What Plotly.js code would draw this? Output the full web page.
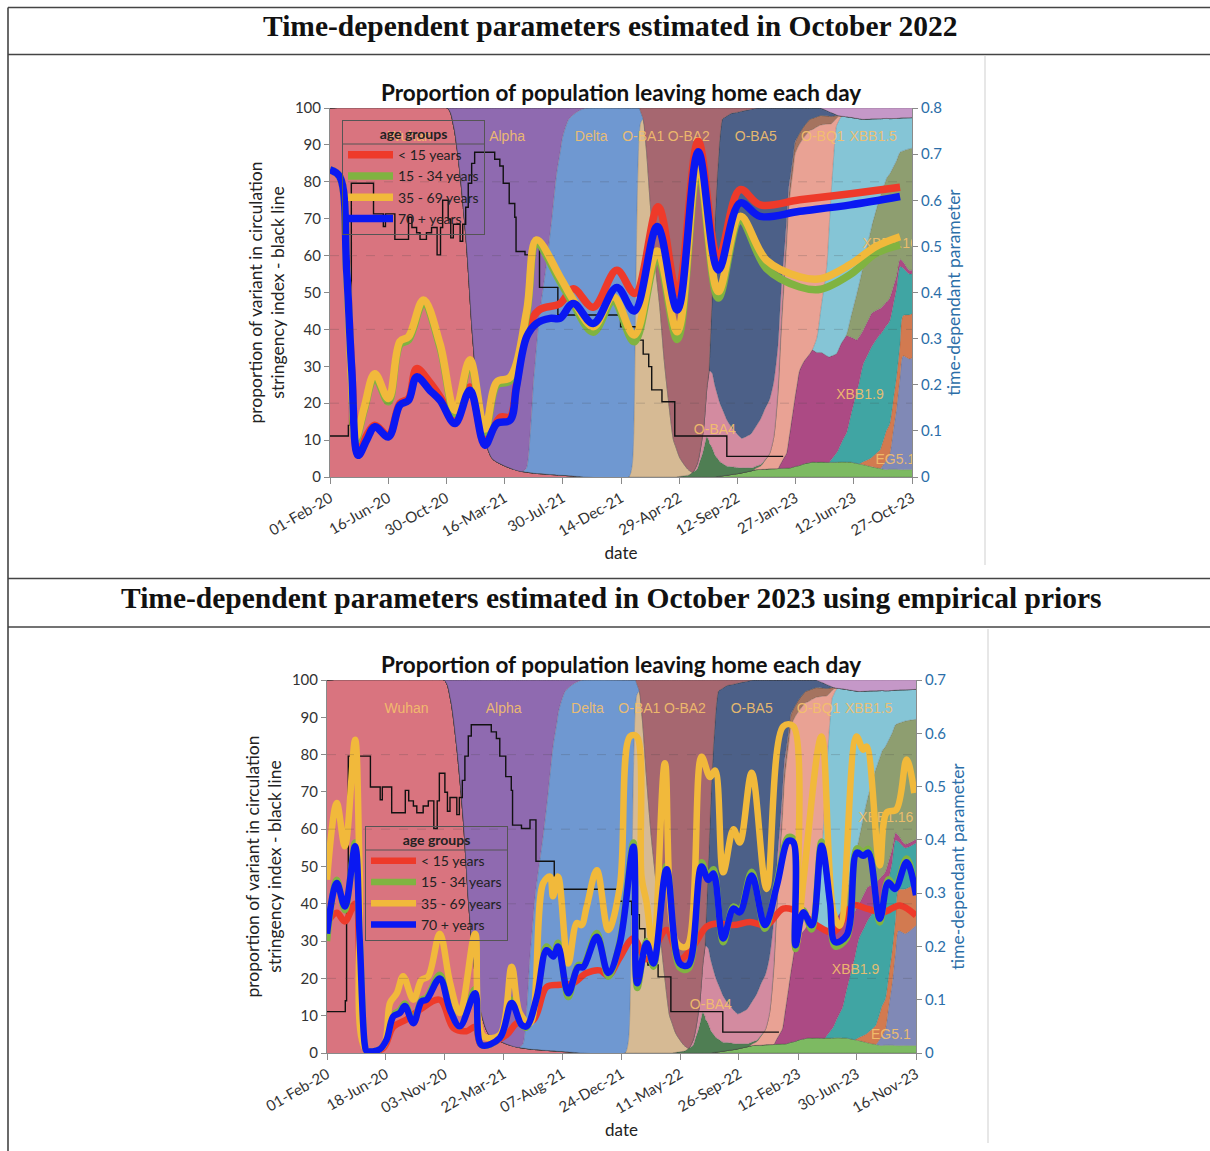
<!DOCTYPE html>
<html><head><meta charset="utf-8">
<script src="https://cdn.plot.ly/plotly-3.0.1.min.js"></script>
<style>html,body{margin:0;padding:0;background:#fff;}#chart{width:1210px;height:1151px;}</style>
</head><body><div id="chart"></div>
<script>
// ---------------- x axis ticks (days since 01-Feb-20) ----------------
const topTickLabels = ['01-Feb-20','16-Jun-20','30-Oct-20','16-Mar-21','30-Jul-21','14-Dec-21','29-Apr-22','12-Sep-22','27-Jan-23','12-Jun-23','27-Oct-23'];
const topTickDays = [0,136,272,409,545,682,818,954,1091,1227,1364];
const botTickLabels = ['01-Feb-20','18-Jun-20','03-Nov-20','22-Mar-21','07-Aug-21','24-Dec-21','11-May-22','26-Sep-22','12-Feb-23','30-Jun-23','16-Nov-23'];
const botTickDays = [0,138,276,415,553,692,830,968,1107,1245,1384];

// ---------------- variant shares (% of circulation), stacked bottom -> top ----------------
const wuhanDays = [0,275,290,305,320,333,345,360,380,420,450,480,540,600];
const wuhanShare = [100,100,95,82,63,40,24,12,5,2.5,1.5,1,0.5,0];
const otherDays = [900,960,1000,1080,1110,1130,1220,1260,1300,1390];
const otherShare = [0,1,2,2.5,3.5,4,4,3,2,2];
const eg51Days = [1290,1312,1328,1336,1343,1359,1390];
const eg51Share = [0,4,16,25,31,30,33];
const orangeDays = [1240,1265,1289,1304,1320,1336,1343,1359,1390];
const orangeShare = [0,2,5,8,8,9,11,12,11];
const xbb19Days = [1170,1190,1211,1230,1250,1270,1289,1312,1336,1343,1359,1390];
const xbb19Share = [0,3,8,17,26,30,31,27,21,13,11,11];
const xbbDays = [1050,1070,1085,1100,1130,1164,1187,1211,1234,1250,1270,1289,1312,1336,1359,1390];
const xbbShare = [0,4,15,26,30,29,27,26,14,9,9,7,6,2,1,1];
const xbb116Days = [1205,1211,1234,1265,1289,1305,1336,1359,1390];
const xbb116Share = [0,0.5,12,22,30,33.5,29,33,32];
const xbb15Days = [1130,1141,1152,1164,1175,1187,1200,1211,1234,1265,1289,1305,1336,1359,1390];
const xbb15Share = [0,4,13,24,45,62,60,58.5,47,31,21,16,9.3,8.4,8];
const bq1Days = [990,1010,1030,1040,1050,1058,1066,1075,1090,1110,1125,1141,1152,1164,1175,1187,1200];
const bq1Share = [0,1,4,8.5,20,36,50,64,65,60,60,57,48,39,18,2,0];
const bq1bDays = [1040,1055,1070,1130,1175,1195];
const bq1bShare = [0,2,3,3,2,0];
const greenDays = [810,840,860,872,883,892,902,914,930,960,1000,1030];
const greenShare = [0,0.5,2,6,11,9,6,4,2.5,1.5,0.5,0];
const ba4Days = [850,865,876,884,890,898,910,925,940,955,965,985,1000,1020,1040,1050,1058,1066,1080,1095];
const ba4Share = [0,2,6,14,21,20,17,14,11,9,8,9,11,14,15,12,9,5,1,0];
const ba5Days = [888,896,902,908,914,920,930,950,965,985,1000,1020,1040,1050,1058,1066,1075,1090,1110,1125,1150,1175,1190];
const ba5Share = [0,22,44,61,74,81,85,87,89,88,86,82,74,64,48,37,22,9,5,3,2,1,0];
const ba1Days = [700,708,712,716,720,724,728,734,742,750,762,773,783,793,805,820,836,850];
const ba1Share = [0,3,12,45,75,91,96,97,88,75,58,46,32,21,10,5,2,0];
const deltaDays = [450,460,470,477,490,508,520,531,545,560,580,600,700,708,712,716,720,724,728,734];
const deltaShare = [0,1,12,25,42,58,70,82,92,97,99,100,99,97,88,55,25,8,3,0];
const alphaDays = [275,290,305,320,333,345,360,380,420,450,460,470,477,490,508,520,531,545,560,580,600];
const alphaShare = [0,5,18,37,60,76,88,95,97.5,98.5,98,87,74,57,42,30,18,8,3,1,0];
const ba2Days = [725,734,742,750,762,773,783,793,805,820,836,850,865,876,884,890,896,902,908,914,920,940,980,1000];
const ba2Share = [0,3,12,25,42,54,68,79,90,95,97,96,95,88,75,70,50,32,18,8,3,1.5,0.5,0];
const topMiscDays = [1150,1190,1250,1390];
const topMiscShare = [0,2,3,2.5];

// variant name labels
const labelNames = ['Wuhan','Alpha','Delta','O-BA1','O-BA2','O-BA5','O-BQ1','XBB1.5','XBB1.16','XBB1.9','O-BA4','EG5.1'];
const labelDays = [187,415,612,734,841,998,1155,1273,1313,1242,902,1325];
const labelVals = [92,92,92,92,92,92,92,92,63,22,12.7,4.6];

// ---------------- stringency index (black step line) ----------------
const stringDays = [0,40,43,46,50,102,125,130,152,184,192,203,211,226,238,251,259,264,277,283,289,305,311,318,324,332,339,386,398,406,420,433,436,457,477,491,534,681,716,734,747,754,778,808,930,1062];
const stringVals = [11.1,11.1,14,40,79.6,71.3,67.9,71.3,64.4,70.4,67.6,66.2,64.4,66.2,67.6,60.2,67.6,75,69.9,64.8,68.5,63.9,68.5,73.1,79.6,85,88,86.1,84.3,79.6,74.1,70.4,61.1,60.2,62.5,51.4,43.9,40.7,37.1,33.3,29.9,23.6,20.4,11.1,5.6,5.6];

// ---------------- time-dependent parameter, estimated Oct 2022 ----------------
const top15Days = [0,23,39,51,66,86,105,137,164,184,203,234,258,293,328,363,400,422,437,461,490,539,570,617,672,715,769,814,863,910,961,1008,1101,1220,1336];
const top15Vals = [0.666,0.651,0.45,0.23,0.05,0.09,0.112,0.09,0.16,0.17,0.235,0.205,0.174,0.123,0.195,0.08,0.13,0.13,0.2,0.318,0.362,0.376,0.408,0.368,0.448,0.398,0.586,0.398,0.728,0.474,0.623,0.59,0.601,0.614,0.628];
const top1534Days = [0,23,39,51,60,80,105,137,164,184,219,258,293,328,363,391,422,461,484,539,570,617,664,713,767,814,863,910,961,1023,1101,1150,1218,1280,1336];
const top1534Vals = [0.666,0.651,0.45,0.2,0.078,0.145,0.216,0.163,0.287,0.297,0.377,0.281,0.137,0.247,0.097,0.199,0.209,0.353,0.505,0.424,0.375,0.314,0.381,0.293,0.477,0.298,0.668,0.388,0.556,0.452,0.412,0.407,0.438,0.485,0.503];
const top3569Days = [0,23,39,51,60,80,105,137,164,184,219,258,293,328,363,391,422,461,484,539,570,617,664,713,767,814,863,910,961,1023,1101,1150,1218,1280,1336];
const top3569Vals = [0.666,0.651,0.45,0.2,0.085,0.15,0.224,0.17,0.294,0.304,0.384,0.288,0.144,0.254,0.104,0.206,0.216,0.36,0.514,0.434,0.384,0.326,0.391,0.308,0.49,0.315,0.68,0.402,0.565,0.47,0.434,0.43,0.46,0.5,0.521];
const top70Days = [0,23,39,51,66,86,105,137,164,184,203,234,258,293,328,363,391,422,437,461,484,516,539,570,617,672,713,767,814,863,910,961,1008,1101,1220,1336];
const top70Vals = [0.666,0.651,0.45,0.232,0.047,0.08,0.109,0.087,0.156,0.166,0.217,0.188,0.166,0.116,0.188,0.069,0.116,0.123,0.195,0.304,0.333,0.344,0.344,0.376,0.333,0.411,0.36,0.543,0.362,0.705,0.449,0.594,0.565,0.576,0.59,0.608];

// ---------------- time-dependent parameter, estimated Oct 2023 ----------------
const bot15Days = [0,23,42,66,77,93,132,156,187,218,265,297,328,348,363,422,446,485,516,547,578,610,641,661,688,720,751,798,829,860,892,915,955,994,1033,1072,1111,1150,1190,1236,1268,1307,1346,1384];
const bot15Vals = [0.244,0.263,0.247,0.28,0.147,0.004,0.009,0.049,0.063,0.081,0.1,0.047,0.041,0.049,0.015,0.034,0.056,0.062,0.124,0.128,0.131,0.15,0.155,0.145,0.179,0.215,0.176,0.231,0.176,0.2,0.237,0.243,0.24,0.246,0.24,0.271,0.264,0.24,0.227,0.277,0.271,0.264,0.277,0.258];
const botBlueDays = [0,23,42,66,77,89,93,124,140,156,171,183,203,222,234,265,289,312,348,363,406,434,457,469,493,516,532,543,567,590,602,634,661,688,720,729,751,767,798,829,849,880,896,908,931,955,970,998,1029,1057,1084,1096,1101,1119,1139,1162,1182,1194,1221,1245,1260,1272,1299,1319,1335,1362,1384];
const bot1534Vals = [0.21,0.325,0.268,0.395,0.215,0.014,0.004,0.007,0.026,0.072,0.08,0.093,0.058,0.1,0.104,0.147,0.083,0.05,0.12,0.015,0.028,0.1,0.052,0.048,0.105,0.2,0.185,0.207,0.105,0.165,0.165,0.225,0.143,0.21,0.395,0.122,0.21,0.162,0.352,0.16,0.158,0.358,0.33,0.345,0.208,0.275,0.268,0.34,0.233,0.32,0.405,0.402,0.195,0.268,0.232,0.397,0.287,0.2,0.215,0.384,0.376,0.383,0.245,0.326,0.312,0.365,0.3];
const bot3569Days = [0,23,42,66,77,93,132,148,164,179,203,222,238,265,289,312,348,367,406,434,453,477,508,524,531,543,567,587,598,610,634,661,688,712,728,739,751,767,794,822,845,880,900,912,931,955,970,998,1033,1072,1096,1104,1119,1162,1190,1205,1244,1260,1268,1299,1315,1338,1362,1380];
const bot3569Vals = [0.325,0.469,0.388,0.588,0.336,0.004,0.013,0.094,0.112,0.144,0.1,0.137,0.144,0.224,0.132,0.075,0.224,0.032,0.034,0.162,0.075,0.056,0.319,0.331,0.294,0.331,0.168,0.244,0.24,0.274,0.343,0.231,0.312,0.594,0.594,0.331,0.282,0.193,0.544,0.206,0.2,0.556,0.518,0.53,0.339,0.42,0.395,0.526,0.308,0.613,0.613,0.208,0.32,0.594,0.264,0.239,0.594,0.569,0.575,0.352,0.451,0.457,0.551,0.488];
const bot70Vals = [0.224,0.319,0.275,0.388,0.21,0.014,0.004,0.007,0.025,0.069,0.075,0.088,0.056,0.097,0.1,0.14,0.081,0.05,0.112,0.015,0.028,0.094,0.053,0.05,0.105,0.193,0.181,0.2,0.112,0.161,0.161,0.218,0.15,0.206,0.387,0.131,0.206,0.168,0.345,0.168,0.165,0.35,0.325,0.337,0.215,0.271,0.264,0.333,0.24,0.314,0.398,0.395,0.202,0.264,0.24,0.389,0.283,0.208,0.221,0.376,0.37,0.376,0.252,0.32,0.308,0.358,0.296];

const ageNames = ['< 15 years','15 - 34 years','35 - 69 years','70 + years'];

// ---------------- styles ----------------
const FONT = 'Lato, "Open Sans", "DejaVu Sans", sans-serif';
const BLUE_AX = '#2b6ea8';
const AGE_COLORS = ['#ee3a2a','#80b341','#f1b93b','#0a18f2'];
const variants = [
  {name:'Wuhan', d:wuhanDays, s:wuhanShare, c:'#d9747f'},
  {name:'other', d:otherDays, s:otherShare, c:'#7dba62'},
  {name:'EG5.1', d:eg51Days, s:eg51Share, c:'#8089b6'},
  {name:'XBB other', d:orangeDays, s:orangeShare, c:'#d27a50'},
  {name:'XBB1.9', d:xbb19Days, s:xbb19Share, c:'#40a5a3'},
  {name:'XBB', d:xbbDays, s:xbbShare, c:'#ac4a84'},
  {name:'XBB1.16', d:xbb116Days, s:xbb116Share, c:'#8e9e70'},
  {name:'XBB1.5', d:xbb15Days, s:xbb15Share, c:'#85c5d6'},
  {name:'O-BQ1', d:bq1Days, s:bq1Share, c:'#e9a294'},
  {name:'O-BQ1 other', d:bq1bDays, s:bq1bShare, c:'#a5735f'},
  {name:'O-BA2.75', d:greenDays, s:greenShare, c:'#4f7e53'},
  {name:'O-BA4', d:ba4Days, s:ba4Share, c:'#d38ba0'},
  {name:'O-BA5', d:ba5Days, s:ba5Share, c:'#4c6088'},
  {name:'O-BA1', d:ba1Days, s:ba1Share, c:'#d6ba94'},
  {name:'Delta', d:deltaDays, s:deltaShare, c:'#6f98d1'},
  {name:'Alpha', d:alphaDays, s:alphaShare, c:'#8f6ab0'},
  {name:'O-BA2', d:ba2Days, s:ba2Share, c:'#a66770'},
  {name:'misc', d:topMiscDays, s:topMiscShare, c:'#c598c8'}
];

function areaTraces(xa, ya, group){
  return variants.map(v => ({
    type:'scatter', mode:'lines', x:v.d, y:v.s, xaxis:xa, yaxis:ya, name:v.name,
    stackgroup:group, groupnorm:'percent', stackgaps:'interpolate',
    line:{width:0.6, color:'rgba(60,60,60,0.4)', shape:'spline', smoothing:0.7},
    fillcolor:v.c, showlegend:false, hoverinfo:'skip'
  }));
}
function labelTrace(xa, ya){
  return {type:'scatter', mode:'text', x:labelDays, y:labelVals, text:labelNames, xaxis:xa, yaxis:ya,
    textfont:{family:'"Liberation Sans", Arial, sans-serif', size:14, color:'rgba(244,192,108,0.92)'},
    showlegend:false, hoverinfo:'skip'};
}
function stringTrace(xa, ya){
  return {type:'scatter', mode:'lines', x:stringDays, y:stringVals, xaxis:xa, yaxis:ya, name:'stringency',
    line:{color:'#111', width:1.4, shape:'hv'}, showlegend:false, hoverinfo:'skip'};
}
function ageTrace(i, days, vals, xa, ya, leg, w){
  return {type:'scatter', mode:'lines', x:days, y:vals, xaxis:xa, yaxis:ya, name:ageNames[i], legend:leg,
    line:{color:AGE_COLORS[i], width:w, shape:'spline', smoothing:1}, hoverinfo:'skip'};
}

const traces = [].concat(
  areaTraces('x','y','top'), [labelTrace('x','y'), stringTrace('x','y')],
  [ageTrace(0, top15Days, top15Vals, 'x','y2','legend',7.5),
   ageTrace(1, top1534Days, top1534Vals, 'x','y2','legend',7.5),
   ageTrace(2, top3569Days, top3569Vals, 'x','y2','legend',7.5),
   ageTrace(3, top70Days, top70Vals, 'x','y2','legend',7.5)],
  areaTraces('x2','y3','bot'), [labelTrace('x2','y3'), stringTrace('x2','y3')],
  [ageTrace(0, bot15Days, bot15Vals, 'x2','y4','legend2',6.5),
   ageTrace(1, botBlueDays, bot1534Vals, 'x2','y4','legend2',6.5),
   ageTrace(2, bot3569Days, bot3569Vals, 'x2','y4','legend2',6.5),
   ageTrace(3, botBlueDays, bot70Vals, 'x2','y4','legend2',6.5)]
);

const W = 1210, H = 1151;
const px = v => v / W, py = v => 1 - v / H;
const tickFont = {family:FONT, size:15, color:'#333'};
const AXC = '#8a8a8a';
function xAxis(dom, range, tv, tt, anchor){
  return {domain:dom, range:range, anchor:anchor, tickmode:'array', tickvals:tv, ticktext:tt, tickangle:-30,
    ticks:'outside', ticklen:6, tickcolor:AXC, showline:true, linecolor:AXC, showgrid:false, zeroline:false,
    tickfont:tickFont, title:{text:'date', font:{family:FONT, size:17, color:'#222'}, standoff:8}};
}
function yLeft(dom, anchor){
  return {domain:dom, range:[0,100], anchor:anchor, dtick:10, ticks:'outside', ticklen:5, tickcolor:AXC,
    showline:true, linecolor:AXC, showgrid:false, zeroline:false, tickfont:tickFont,
    title:{text:'proportion of variant in circulation<br>stringency index - black line', font:{family:FONT, size:17.5, color:'#222'}, standoff:5}};
}
function yRight(over, anchor, top){
  return {overlaying:over, anchor:anchor, side:'right', range:[0,top], dtick:0.1, ticks:'outside', ticklen:5,
    tickcolor:AXC, showline:true, linecolor:AXC, showgrid:false, zeroline:false,
    tickfont:{family:FONT, size:15, color:BLUE_AX},
    title:{text:'time-dependant parameter', font:{family:FONT, size:17.5, color:BLUE_AX}, standoff:6}};
}
function legendBox(x, y){
  return {x:x, y:y, xanchor:'left', yanchor:'top', bgcolor:'rgba(0,0,0,0)', bordercolor:'#555', borderwidth:1,
    traceorder:'normal', font:{family:FONT, size:14, color:'#222'}, itemwidth:45, tracegroupgap:0,
    title:{text:'<b>age groups</b>', side:'top center', font:{family:FONT, size:14, color:'#222'}}};
}

const frame = {type:'line', xref:'paper', yref:'paper', line:{color:'#444', width:1.6}};
const thin = {type:'line', xref:'paper', yref:'paper', line:{color:'#cfcfcf', width:1}};
const shapes = [
  Object.assign({}, frame, {x0:px(8), x1:1, y0:py(7.5), y1:py(7.5)}),
  Object.assign({}, frame, {x0:px(8), x1:px(8), y0:py(7.5), y1:0}),
  Object.assign({}, frame, {x0:px(8), x1:1, y0:py(54.5), y1:py(54.5)}),
  Object.assign({}, frame, {x0:px(8), x1:1, y0:py(578.5), y1:py(578.5)}),
  Object.assign({}, frame, {x0:px(8), x1:1, y0:py(627), y1:py(627)}),
  Object.assign({}, thin, {x0:px(985), x1:px(985), y0:py(56), y1:py(565)}),
  Object.assign({}, thin, {x0:px(988), x1:px(988), y0:py(629), y1:py(1143)}),
  Object.assign({}, frame, {x0:px(342), x1:px(485), y0:py(144), y1:py(144), line:{color:'#555', width:1}}),
  Object.assign({}, frame, {x0:px(365), x1:px(508), y0:py(850), y1:py(850), line:{color:'#555', width:1}})
];
[20,40,60,80].forEach(g => {
  shapes.push({type:'line', xref:'x domain', yref:'y', x0:0, x1:1, y0:g, y1:g, line:{color:'rgba(70,70,70,0.22)', width:1, dash:'dash'}});
  shapes.push({type:'line', xref:'x2 domain', yref:'y3', x0:0, x1:1, y0:g, y1:g, line:{color:'rgba(70,70,70,0.22)', width:1, dash:'dash'}});
});

const headFont = {family:'"Liberation Serif", "DejaVu Serif", serif', size:29.5, color:'#111'};
const titleFont = {family:FONT, size:22.5, color:'#111'};
const annotations = [
  {xref:'paper', yref:'paper', x:px(610), y:py(26), text:'<b>Time-dependent parameters estimated in October 2022</b>', showarrow:false, font:headFont, xanchor:'center', yanchor:'middle'},
  {xref:'paper', yref:'paper', x:px(611), y:py(598), text:'<b>Time-dependent parameters estimated in October 2023 using empirical priors</b>', showarrow:false, font:headFont, xanchor:'center', yanchor:'middle'},
  {xref:'paper', yref:'paper', x:px(621), y:py(92), text:'<b>Proportion of population leaving home each day</b>', showarrow:false, font:titleFont, xanchor:'center', yanchor:'middle'},
  {xref:'paper', yref:'paper', x:px(621), y:py(664), text:'<b>Proportion of population leaving home each day</b>', showarrow:false, font:titleFont, xanchor:'center', yanchor:'middle'}
];

const layout = {
  width:W, height:H, margin:{l:0, r:0, t:0, b:0}, paper_bgcolor:'#fff', plot_bgcolor:'rgba(0,0,0,0)',
  font:{family:FONT, color:'#222'}, showlegend:true,
  xaxis: xAxis([px(330), px(912)], [0,1364], topTickDays, topTickLabels, 'y'),
  yaxis: yLeft([py(477), py(108)], 'x'),
  yaxis2: yRight('y', 'x', 0.8),
  xaxis2: xAxis([px(327), px(916)], [0,1384], botTickDays, botTickLabels, 'y3'),
  yaxis3: yLeft([py(1053), py(680)], 'x2'),
  yaxis4: yRight('y3', 'x2', 0.7),
  legend: legendBox(px(342), py(120)),
  legend2: legendBox(px(365), py(826)),
  shapes: shapes, annotations: annotations
};

Plotly.newPlot('chart', traces, layout, {displayModeBar:false, staticPlot:true});
</script></body></html>
